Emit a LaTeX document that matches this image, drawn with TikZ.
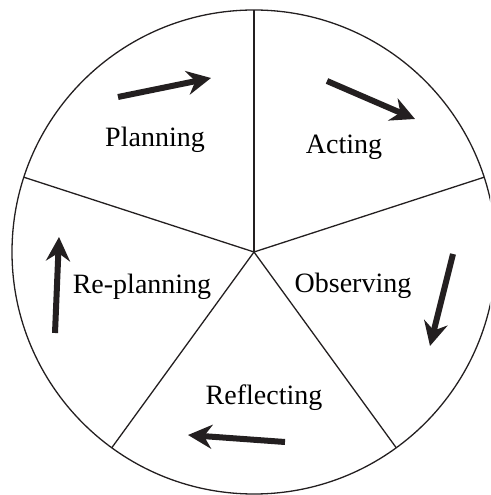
\documentclass[tikz,border=0pt]{standalone}
\usepackage{fontspec}
\setmainfont{Liberation Serif}
\usetikzlibrary{arrows.meta, calc}
\definecolor{inkblack}{RGB}{35, 31, 32}

\begin{document}
\begin{tikzpicture}[x=1pt, y=1pt,
    wheel/.style={draw=inkblack, line width=1.3pt},
    phase/.style={anchor=base, font=\fontsize{28}{34}\selectfont, inner sep=0pt},
    flow/.style={draw=inkblack, line width=6pt, -{Stealth[length=24pt, width=24pt, inset=8pt]}}]
    \useasboundingbox (0,0) rectangle (490,495);
    \clip (0,0) rectangle (490,495);

    % Wheel and its five spokes
    \coordinate (hub) at (254,243);
    \draw[wheel] (hub) circle (242);
    \foreach \a/\name in {90/top, 18/right, -54/lowright, -126/lowleft, 162/left} {
        \coordinate (\name) at ($(hub)+(\a:242)$);
        \draw[wheel] (hub) -- (\name);
    }

    % Phase labels
    \node[phase] (planning) at (155,348) {Planning};
    \node[phase] (acting) at (344,341) {Acting};
    \node[phase] (observing) at (353,202) {Observing};
    \node[phase] (reflecting) at (264,90) {Reflecting};
    \node[phase] (replanning) at (142,201) {Re-planning};

    % Direction arrows
    \coordinate (p1) at (118,398); \coordinate (p2) at (211,417);
    \coordinate (a1) at (327,414); \coordinate (a2) at (415,376);
    \coordinate (o1) at (453,241); \coordinate (o2) at (430,149);
    \coordinate (r1) at (285,53);  \coordinate (r2) at (188,60);
    \coordinate (q1) at (55,162);  \coordinate (q2) at (59,258);
    \foreach \s/\e in {p1/p2, a1/a2, o1/o2, r1/r2, q1/q2} {
        \draw[flow] (\s) -- (\e);
    }
\end{tikzpicture}
\end{document}
